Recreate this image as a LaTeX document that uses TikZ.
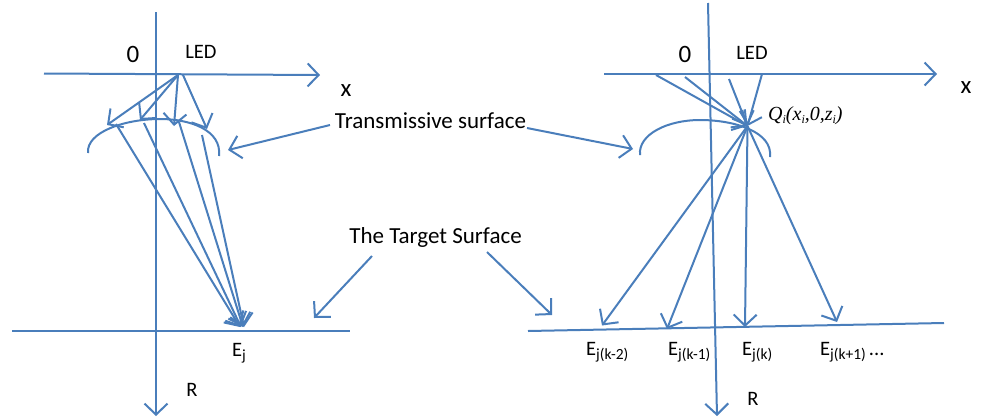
\documentclass[tikz,border=0pt]{standalone}
\usepackage{fontspec}
\setmainfont{Carlito}
\newfontfamily\qfont{Liberation Serif}
\usetikzlibrary{arrows.meta}
\definecolor{bl}{HTML}{4A7EBB}
\newcommand{\subs}[1]{\raisebox{-4.5pt}{\fontsize{15.5}{15.5}\selectfont #1}}
\newcommand{\qsub}[1]{\raisebox{-2.5pt}{\fontsize{12}{12}\selectfont #1}}
\tikzset{
  ln/.style={draw=bl,line width=2pt},
  ar/.style={ln,-{Straight Barb[length=11pt,width=23pt,line width=2pt]}},
  lab/.style={inner sep=0pt,text=black,font=\fontsize{20.5}{24}\selectfont},
  big/.style={inner sep=0pt,text=black,font=\fontsize{25}{28}\selectfont},
  captext/.style={inner sep=0pt,text=black,font=\fontsize{23}{28}\selectfont}
}
\begin{document}
\begin{tikzpicture}[x=1pt,y=-1pt]
\useasboundingbox (0,0) rectangle (986,416);
% left coordinates
\coordinate (ayt) at (156,12); \coordinate (ayb) at (156,416);
\coordinate (axl) at (44,73.5); \coordinate (axr) at (320,75);
\coordinate (src) at (178,75); \coordinate (src2) at (183,75);
\coordinate (a1) at (107,125); \coordinate (a2) at (140,120);
\coordinate (a3) at (174,126); \coordinate (a4) at (207,129);
\coordinate (b1) at (116,124); \coordinate (b2) at (144,123);
\coordinate (b3) at (179,122); \coordinate (b4) at (202,135);
\coordinate (t1) at (240,327); \coordinate (t2) at (241,327);
\coordinate (t3) at (243,327); \coordinate (t4) at (244,327);
\coordinate (tl) at (12,331); \coordinate (tr) at (350,331);
\draw[ar] (ayt) -- (ayb);
\draw[ar] (axl) -- (axr);
\draw[ln] (tl) -- (tr);
\draw[ar] (src) -- (a1);
\draw[ar] (src) -- (a2);
\draw[ar] (src) -- (a3);
\draw[ar] (src2) -- (a4);
\draw[ar] (b1) -- (t1);
\draw[ar] (b2) -- (t2);
\draw[ar] (b3) -- (t3);
\draw[ar] (b4) -- (t4);
\coordinate (c1) at (88,153); \coordinate (c2) at (219,156);
\draw[ln] (c1) .. controls (86,132) and (125,119) .. (160,119) .. controls (190,119) and (222,130) .. (c2);
% right coordinates
\coordinate (ryt) at (708,3); \coordinate (ryb) at (717,416);
\coordinate (rxl) at (604,74); \coordinate (rxr) at (937,74);
\coordinate (q) at (747.5,126);
\coordinate (s1) at (656,75); \coordinate (s2) at (685,77);
\coordinate (s3) at (729,79); \coordinate (s4) at (762,74);
\coordinate (e1) at (602,325.5); \coordinate (e2) at (667,329);
\coordinate (e3) at (745,327); \coordinate (e4) at (837,322);
\coordinate (rtl) at (528,331); \coordinate (rtr) at (944,323);
\draw[ar] (ryt) -- (ryb);
\draw[ar] (rxl) -- (rxr);
\draw[ln] (rtl) -- (rtr);
\draw[ar] (s1) -- (q);
\draw[ar] (s2) -- (q);
\draw[ar] (s3) -- (q);
\draw[ar] (s4) -- (q);
\draw[ar] (q) -- (e1);
\draw[ar] (q) -- (e2);
\draw[ar] (q) -- (e3);
\draw[ar] (q) -- (e4);
\coordinate (d1) at (640,155); \coordinate (d2) at (770,157);
\draw[ln] (d1) .. controls (638,134) and (668,120) .. (700,120) .. controls (735,120) and (773,132) .. (d2);
% labels
\node[big] (zero1) at (133,54) {0};
\node[lab] (led1) at (201,52) {LED};
\node[big] (x1) at (346,91) {x};
\node[big] (zero2) at (685,54) {0};
\node[lab] (led2) at (752,53) {LED};
\node[big] (x2) at (966,88) {x};
\node[captext] (ts) at (430.5,121) {Transmissive surface};
\node[captext] (tg) at (435.5,237) {The Target Surface};
\node[lab] (ej) at (239,353) {E\subs{j}};
\node[lab] (r1) at (192,390) {R};
\node[lab] (r2) at (753,399) {R};
\node[lab,anchor=west] (ek2) at (586,352) {E\subs{j(k-2)}};
\node[lab,anchor=west] (ek1) at (668,352) {E\subs{j(k-1)}};
\node[lab,anchor=west] (ek) at (742,352) {E\subs{j(k)}};
\node[lab,anchor=west] (ekp) at (820,352) {E\subs{j(k+1)}\hspace{3pt}...};
\node[inner sep=0pt,anchor=west,font=\fontsize{20}{22}\selectfont\qfont\itshape] (qlab) at (768,116) {Q\qsub{i}(x\qsub{i},0,z\qsub{i})};
\coordinate (ts1) at (330,125); \coordinate (ts2) at (228,150);
\coordinate (ts3) at (527,128); \coordinate (ts4) at (633,149);
\coordinate (tg1) at (372,256); \coordinate (tg2) at (314,318);
\coordinate (tg3) at (487,252); \coordinate (tg4) at (552,315);
\draw[ar] (ts1) -- (ts2);
\draw[ar] (ts3) -- (ts4);
\draw[ar] (tg1) -- (tg2);
\draw[ar] (tg3) -- (tg4);
\end{tikzpicture}
\end{document}
